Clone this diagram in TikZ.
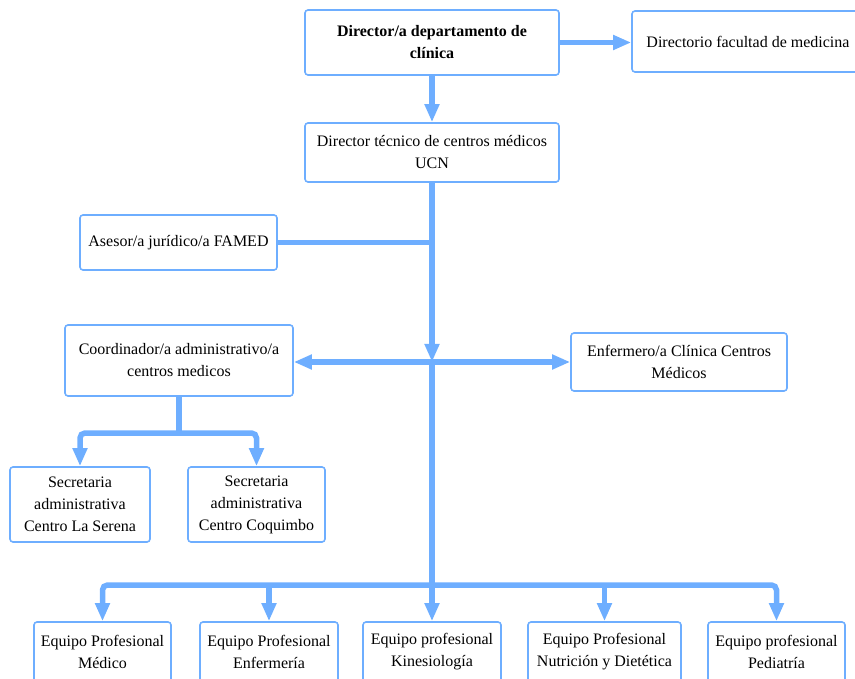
\documentclass[tikz,border=0pt]{standalone}
\usepackage{fontspec}
\setmainfont{Liberation Serif}
\definecolor{orgblue}{HTML}{6EAEFF}
\usepackage{tikz}
\usetikzlibrary{arrows.meta, positioning, calc}

\begin{document}
\begin{tikzpicture}[x=1pt, y=-1pt,
    box/.style={draw=orgblue, line width=1.6pt, rounded corners=3pt, fill=white,
      align=center, inner sep=0pt, font=\fontsize{16}{22}\selectfont},
    link/.style={draw=orgblue, line width=5.5pt},
    arr/.style={link, -{Triangle[length=18pt, width=14pt]}}]
      \useasboundingbox (0,0) rectangle (855,679);

      % Top of the chart
      \node[box, minimum width=254, minimum height=65, font=\fontsize{16}{22}\selectfont\bfseries] (dir) at (432, 42.5) {Director/a departamento de\\clínica};
      \node[box, minimum width=232, minimum height=61] (dfm) at (748, 41.5) {Directorio facultad de medicina};
      \node[box, minimum width=254, minimum height=59] (tec) at (432, 152.5) {Director técnico de centros médicos\\UCN};
      \node[box, minimum width=197, minimum height=55] (ase) at (178.5, 242.5) {Asesor/a jurídico/a FAMED};

      % Middle level
      \node[box, minimum width=228, minimum height=71] (coo) at (179, 360.5) {Coordinador/a administrativo/a\\centros medicos};
      \node[box, minimum width=216, minimum height=58] (enf) at (679, 362) {Enfermero/a Clínica Centros\\Médicos};
      \node[box, minimum width=140, minimum height=75] (sls) at (80, 504.5) {Secretaria\\administrativa\\Centro La Serena};
      \node[box, minimum width=137, minimum height=75] (scq) at (256.5, 504.5) {Secretaria\\administrativa\\Centro Coquimbo};

      % Professional teams
      \node[box, minimum width=137, minimum height=60] (med) at (102.5, 652) {Equipo Profesional\\Médico};
      \node[box, minimum width=138, minimum height=60] (enm) at (269, 652) {Equipo Profesional\\Enfermería};
      \node[box, minimum width=138, minimum height=60] (kin) at (432, 652) {Equipo profesional\\Kinesiología};
      \node[box, minimum width=153, minimum height=60] (nut) at (604.5, 652) {Equipo Profesional\\Nutrición y Dietética};
      \node[box, minimum width=137, minimum height=60] (ped) at (776.5, 652) {Equipo profesional\\Pediatría};

      % Junctions
      \coordinate (mid) at (432, 362);
      \coordinate (bus) at (432, 585);
      \coordinate (brn) at (179, 433);

      % Connectors
      \draw[arr] (dir.east) -- (dir.east -| dfm.west);
      \draw[arr] (dir.south) -- (tec.north);
      \draw[link] (ase.east) -- (ase.east -| tec.south);
      \draw[link] (mid) -- (bus);
      \draw[arr] (tec.south) -- (mid);
      \draw[arr] (mid) -- (mid -| coo.east);
      \draw[arr] (mid) -- (mid -| enf.west);
      \draw[link] (coo.south) -- (brn);
      \draw[arr, rounded corners=5pt] (brn) -| (sls.north);
      \draw[arr, rounded corners=5pt] (brn) -| (scq.north);
      \draw[arr, rounded corners=5pt] (bus) -| (med.north);
      \draw[arr, rounded corners=5pt] (bus) -| (ped.north);
      \draw[arr] (bus -| enm.north) -- (enm.north);
      \draw[arr] (bus -| nut.north) -- (nut.north);
      \draw[arr] (bus) -- (kin.north);
    \end{tikzpicture}
\end{document}
